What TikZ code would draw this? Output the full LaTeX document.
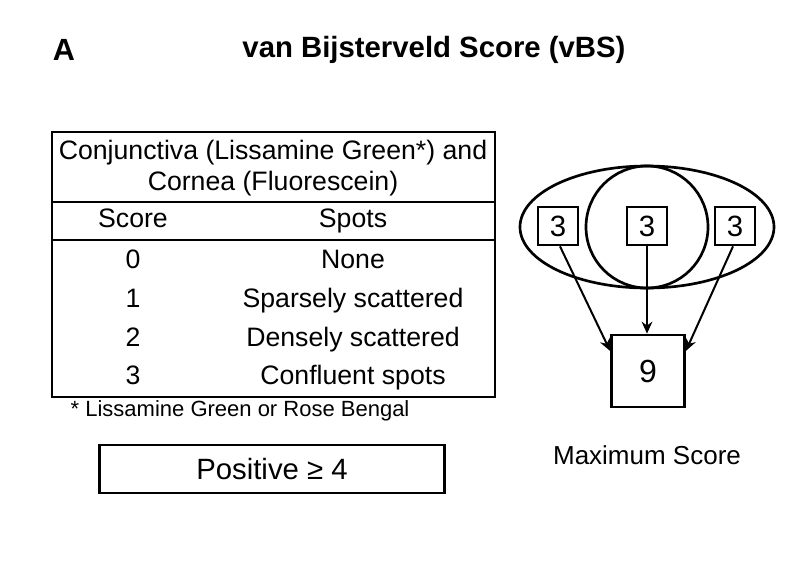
\documentclass[tikz,border=0pt]{standalone}
\usepackage{fontspec}
\setmainfont{Liberation Sans}
\usetikzlibrary{arrows.meta}
\tikzstyle{Cell}=[inner sep=0pt,text height=14pt,text depth=4pt,font=\fontsize{20}{24}\selectfont]
\tikzstyle{Box}=[rectangle,draw,line width=2pt,inner sep=0pt]
\tikzstyle{ArrowObject}=[black,line width=1.5pt,-{Stealth[length=9pt,width=8pt]}]
\begin{document}
\begin{tikzpicture}[x=0.75pt, y=-0.75pt]
		\useasboundingbox (0,0) rectangle (800,576);
		
		% Titles
		\node[font=\fontsize{23}{26}\selectfont\bfseries] (Panel) at (64,50) {A};
		\node[font=\fontsize{22}{26}\selectfont\bfseries] (Title) at (434,50) {van Bijsterveld Score (vBS)};
		
		% Table outline
		\draw[line width=2pt] (52,132) rectangle (495,397);
		\draw[line width=2pt] (52,202) -- (495,202);
		\draw[line width=2pt] (52,240) -- (495,240);
		
		% Table texts
		\node[Cell] (Head1) at (273,153) {Conjunctiva (Lissamine Green*) and};
		\node[Cell] (Head2) at (273,184) {Cornea (Fluorescein)};
		\node[Cell] (ScoreHead) at (133,221) {Score};
		\node[Cell] (SpotsHead) at (353,221) {Spots};
		\foreach \s/\t/\y in {0/None/262,1/Sparsely scattered/301,2/Densely scattered/340,3/Confluent spots/378}
		{
			\node[Cell] (Score\s) at (133,\y) {\s};
			\node[Cell] (Spots\s) at (353,\y) {\t};
		}
		\node[font=\fontsize{16.5}{19}\selectfont,anchor=west] (Note) at (66,411) {* Lissamine Green or Rose Bengal};
		
		% Positive box
		\node[Box,minimum width=345*0.75pt,minimum height=48*0.75pt,font=\fontsize{22}{26}\selectfont] (Positive) at (272,469) {Positive ≥ 4};
		
		% Eye outline
		\draw[line width=2pt] (647,227) ellipse [x radius=127, y radius=61];
		\draw[line width=2pt] (647,227) circle [radius=61*0.75pt];
		
		% Regional scores
		\foreach \n/\x in {L/558,C/647,R/735}
		{
			\node[Box,minimum width=40*0.75pt,minimum height=38*0.75pt,font=\fontsize{22}{26}\selectfont] (Part\n) at (\x,226) {3};
		}
		\node[Box,minimum width=73*0.75pt,minimum height=72*0.75pt,font=\fontsize{24}{28}\selectfont] (Total) at (648,371) {9};
		\node[font=\fontsize{19.5}{23}\selectfont] (MaxLabel) at (647,455) {Maximum Score};
		
		% Score arrows
		\draw[ArrowObject] ([xshift=1.5pt]PartL.south) -- ([yshift=-13pt]Total.north west);
		\draw[ArrowObject] (PartC.south) -- (Total.north -| PartC);
		\draw[ArrowObject] ([xshift=-1.5pt]PartR.south) -- ([yshift=-13pt]Total.north east);
		
	\end{tikzpicture}
\end{document}
